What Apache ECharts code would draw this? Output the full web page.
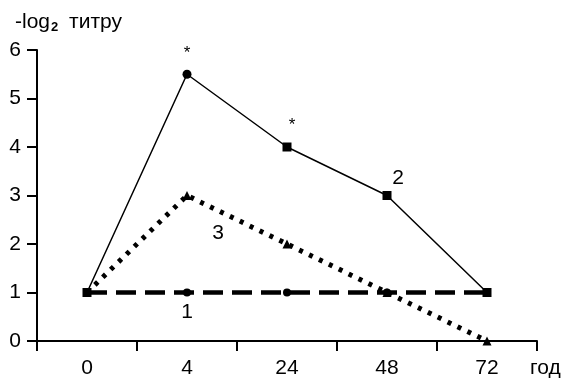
<!DOCTYPE html>
<html><head><meta charset="utf-8">
<script src="https://cdn.jsdelivr.net/npm/echarts@6/dist/echarts.min.js"></script>
<style>html,body{margin:0;padding:0;background:#fff}#c{width:566px;height:380px}</style>
</head><body><div id="c"></div>
<script>
var categories = ['0', '4', '24', '48', '72'];
var series1 = [1, 1, 1, 1, 1];
var series2 = [1, 5.5, 4, 3, 1];
var series3 = [1, 3, 2, 1, 0];
var yTicks = [0, 1, 2, 3, 4, 5, 6];

var font = '"Liberation Sans", Arial, sans-serif';
var FS = 21;
var chart = echarts.init(document.getElementById('c'));

function s1data() {
  return series1.map(function (v, i) {
    var d = { value: v };
    if (i === 0 || i === 4) d.symbol = 'none';
    if (i === 1) d.label = { show: true, position: 'bottom', distance: 5, formatter: '1', fontSize: FS, color: '#000', fontFamily: font };
    return d;
  });
}
function s2data() {
  return series2.map(function (v, i) {
    var d = { value: v, symbol: i === 1 ? 'circle' : 'rect', symbolSize: 9 };
    if (i === 1 || i === 2) d.label = { show: true, position: 'top', distance: 8, offset: i === 2 ? [5, -1] : [0, 0], formatter: '*', fontSize: 17, color: '#000', fontFamily: font };
    if (i === 3) d.label = { show: true, position: 'top', distance: 2, offset: [11, 0], formatter: '2', fontSize: FS, color: '#000', fontFamily: font };
    return d;
  });
}
function s3data() {
  return series3.map(function (v, i) {
    var d = { value: v };
    if (i === 0) d.symbol = 'none';
    if (i === 1) d.label = { show: true, position: 'bottom', offset: [31, 18], formatter: '3', fontSize: FS, color: '#000', fontFamily: font };
    return d;
  });
}

chart.setOption({
  animation: false,
  title: {
    text: '{a|-log}{s|2}{a| титру}',
    left: 10, top: 5,
    textStyle: { rich: {
      a: { fontSize: FS, color: '#000', fontFamily: font, fontWeight: 'normal' },
      s: { fontSize: 13, color: '#000', fontFamily: font, verticalAlign: 'bottom', padding: [11, 5, 0, 1] }
    } }
  },
  grid: { left: 37, right: 29, top: 50, bottom: 39 },
  xAxis: {
    type: 'category', data: categories, boundaryGap: true,
    name: 'год', nameLocation: 'end', nameGap: -7,
    nameTextStyle: { fontSize: FS, color: '#000', fontFamily: font, verticalAlign: 'top', padding: [17, 0, 0, 0] },
    axisLine: { lineStyle: { color: '#000', width: 2 } },
    axisTick: { show: true, length: 10, lineStyle: { color: '#000', width: 2 } },
    axisLabel: { fontSize: FS, color: '#000', fontFamily: font, margin: 17 }
  },
  yAxis: {
    type: 'value', min: yTicks[0], max: yTicks[yTicks.length - 1], interval: 1,
    splitLine: { show: false },
    axisLine: { show: true, lineStyle: { color: '#000', width: 2 } },
    axisTick: { show: true, length: 10, lineStyle: { color: '#000', width: 2 } },
    axisLabel: { fontSize: FS, color: '#000', fontFamily: font, margin: 16 }
  },
  series: [
    { type: 'line', data: s1data(), symbol: 'circle', symbolSize: 8,
      itemStyle: { color: '#000' }, lineStyle: { color: '#000', width: 4.5, type: [20, 9] }, z: 2 },
    { type: 'line', data: s3data(), symbol: 'triangle', symbolSize: 9,
      itemStyle: { color: '#000' }, lineStyle: { color: '#000', width: 5, type: [4, 7] }, z: 3 },
    { type: 'line', data: s2data(),
      itemStyle: { color: '#000' }, lineStyle: { color: '#000', width: 1.5 }, z: 4 }
  ]
});
</script></body></html>
